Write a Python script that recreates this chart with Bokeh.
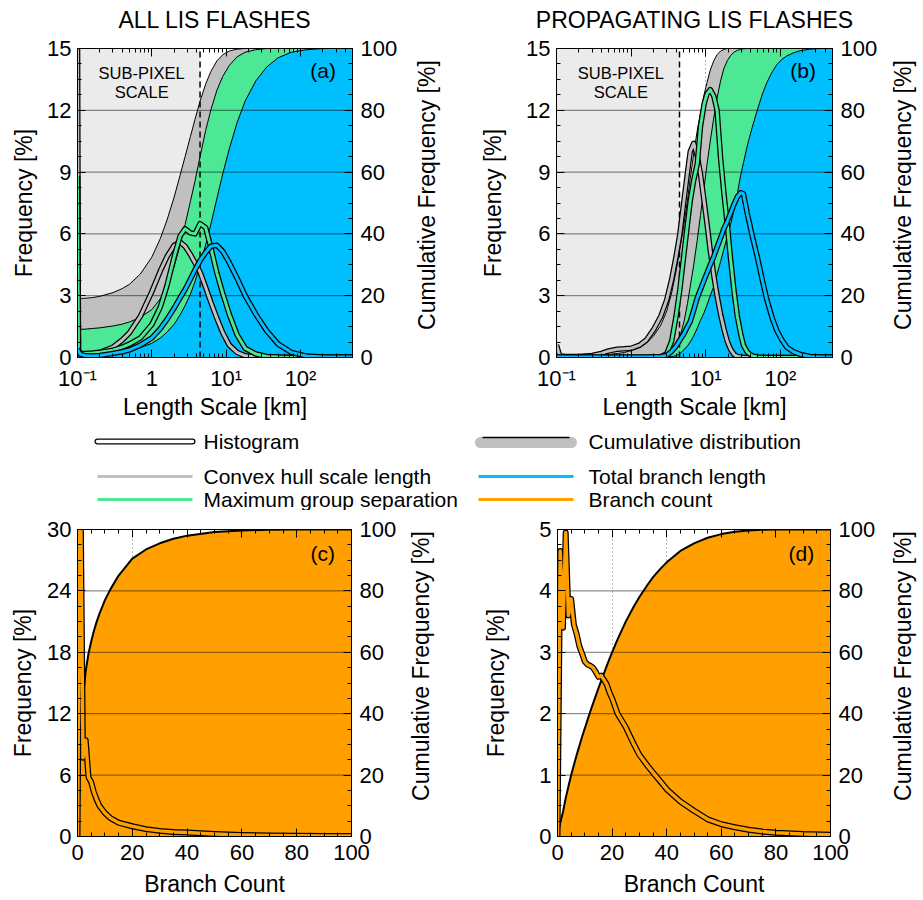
import math
from bokeh.plotting import figure
from bokeh.models import (Range1d, LinearAxis, LogAxis, FixedTicker,
                          CustomJSTickFormatter, Label)
from bokeh.layouts import column, row
from bokeh.embed import file_html
from bokeh.resources import INLINE
from bokeh.core.properties import value

FONT = "Liberation Sans"
LIGHT = "#ebebeb"
GRAY = "#c0c0c0"
GREEN = "#4de896"
BLUE = "#00bfff"
ORANGE = "#ffa000"

# ---------------- data ----------------
LIS_PIXEL_KM = 4.45          # sub-pixel scale limit (dashed line)

# panel (a): all LIS flashes, length scale [km]
X_A = [0.1, 0.103, 0.11, 0.13, 0.16, 0.2, 0.3, 0.4, 0.5, 0.7, 1.0, 1.3, 1.6, 2.0, 2.4, 2.8,
       3.3, 3.8, 4.45, 5.3, 6.2, 7.5, 9.0, 11, 14, 18, 25, 35, 50, 75, 120, 200, 500]
A_HIST_HULL = [16, 0.3, 0.18, 0.15, 0.18, 0.25, 0.5, 0.85, 1.2, 2.0, 3.2, 4.2, 4.9, 5.45, 5.6, 5.4,
               5.0, 4.6, 4.15, 3.4, 2.7, 1.9, 1.2, 0.6, 0.25, 0.08, 0.02, 0, 0, 0, 0, 0, 0]
A_HIST_GROUP = [8.8, 0.3, 0.2, 0.2, 0.22, 0.25, 0.35, 0.5, 0.65, 0.95, 1.6, 2.45, 3.5, 4.9, 5.9, 6.25,
                6.05, 6.0, 6.5, 6.3, 5.35, 4.1, 3.1, 2.1, 1.1, 0.45, 0.17, 0.05, 0.02, 0, 0, 0, 0]
A_HIST_BRANCH = [0.45, 0.3, 0.15, 0.08, 0.07, 0.1, 0.2, 0.28, 0.37, 0.6, 0.95, 1.4, 1.85, 2.4, 2.9, 3.3,
                 3.8, 4.25, 4.7, 5.1, 5.4, 5.45, 5.15, 4.6, 3.85, 3.0, 2.1, 1.3, 0.65, 0.25, 0.07, 0.03, 0.03]
A_CUM_HULL = [19, 19, 19.1, 19.2, 19.4, 19.8, 21, 22.3, 23.7, 27, 32.5, 38.5, 44.5, 52, 59, 65,
              71.5, 77, 83, 88.5, 92.5, 96, 98, 99.2, 99.8, 100, 100, 100, 100, 100, 100, 100, 100]
A_CUM_GROUP = [9, 9, 9.1, 9.2, 9.4, 9.6, 10.2, 10.8, 11.5, 13, 15.5, 19, 23, 29.5, 36.5, 43,
               50.5, 57, 65, 73.5, 80, 86.5, 91, 94.5, 97.3, 98.8, 99.6, 100, 100, 100, 100, 100, 100]
A_CUM_BRANCH = [0.8, 0.9, 1.0, 1.1, 1.2, 1.3, 1.6, 1.9, 2.3, 3.2, 4.6, 6.3, 8.2, 10.8, 13.8, 16.8,
                20.5, 24.5, 30, 36.5, 43, 51.5, 59.5, 67.5, 76, 83, 89.5, 94, 97, 98.8, 99.6, 100, 100]

# panel (b): propagating LIS flashes
X_B = [0.1, 0.103, 0.11, 0.13, 0.16, 0.2, 0.3, 0.4, 0.5, 0.65, 0.8, 1.0, 1.3, 1.6, 2.0, 2.5,
       3.0, 3.5, 4.0, 4.5, 5.1, 5.7, 6.2, 6.9, 7.7, 8.5, 9.5, 10.4, 11.5, 12.8, 14.2, 15.8,
       17.5, 19.4, 21.5, 24, 26.5, 29.4, 32, 36, 42, 49, 57, 66, 78, 90, 105, 122, 150, 185,
       250, 350, 500]
B_HIST_HULL = [0.6, 0.45, 0.1, 0.05, 0.05, 0.05, 0.1, 0.2, 0.32, 0.4, 0.42, 0.45, 0.6, 0.85, 1.35, 2.0,
               2.8, 3.8, 4.9, 6.0, 7.6, 9.0, 10.0, 10.4, 9.8, 8.9, 7.6, 6.5, 5.2, 4.0, 3.0, 2.1,
               1.4, 0.8, 0.4, 0.15, 0.05, 0.02, 0, 0, 0, 0, 0, 0, 0, 0, 0, 0, 0, 0,
               0, 0, 0]
B_HIST_GROUP = [0, 0, 0, 0, 0, 0, 0, 0, 0, 0, 0, 0, 0, 0, 0.01, 0.03,
                0.18, 0.8, 2.0, 3.3, 5.0, 6.5, 7.6, 8.6, 9.4, 11.2, 12.3, 12.8, 13.0, 12.7, 12.0, 9.7,
                8.0, 6.5, 4.8, 3.2, 2.0, 1.15, 0.6, 0.26, 0.08, 0.03, 0, 0, 0, 0, 0, 0, 0, 0,
                0, 0, 0]
B_HIST_BRANCH = [0.03, 0.03, 0.03, 0.03, 0.03, 0.03, 0.03, 0.03, 0.03, 0.03, 0.03, 0.03, 0.03, 0.03, 0.04, 0.05,
                 0.1, 0.3, 0.55, 0.85, 1.15, 1.5, 1.75, 2.3, 2.9, 3.3, 3.75, 4.1, 4.5, 4.9, 5.35, 5.8,
                 6.25, 6.6, 7.0, 7.45, 7.8, 8.0, 7.95, 7.0, 5.9, 4.9, 3.8, 2.8, 1.9, 1.3, 0.85, 0.5, 0.28, 0.15,
                 0.05, 0.03, 0.03]
B_CUM_HULL = [0.5, 0.55, 0.6, 0.6, 0.6, 0.6, 0.7, 0.8, 1.0, 1.3, 1.6, 2.2, 3.2, 4.6, 7.0, 10.5,
              15, 21, 28, 35, 43, 51, 58, 66, 73.5, 79, 85, 89, 93, 96, 98, 99.2,
              99.7, 100, 100, 100, 100, 100, 100, 100, 100, 100, 100, 100, 100, 100, 100, 100, 100, 100,
              100, 100, 100]
B_CUM_GROUP = [0, 0, 0, 0, 0, 0, 0, 0, 0, 0, 0, 0, 0, 0, 0.05, 0.2,
               0.5, 1.5, 3.5, 6.5, 11.5, 17.5, 23, 30, 38, 46, 55, 62.5, 70, 77.5, 84, 89.5,
               93.5, 96, 97.7, 98.8, 99.4, 99.7, 99.9, 100, 100, 100, 100, 100, 100, 100, 100, 100, 100, 100,
               100, 100, 100]
B_CUM_BRANCH = [0, 0, 0, 0, 0, 0, 0, 0, 0, 0, 0, 0, 0, 0, 0, 0.05,
                0.1, 0.3, 0.6, 1.2, 2.5, 3.8, 5.0, 7.0, 9.5, 12.0, 14.5, 17.0, 20.0, 23.0, 27.0, 31.0,
                35.0, 39.0, 43.0, 48.0, 53.0, 59.0, 63.0, 68.5, 74.5, 80.0, 85.0, 89.0, 92.5, 94.8, 96.5, 97.6, 98.6, 99.3,
                99.8, 100, 100]

# panel (c): all flashes, branch count
C_BC = [0, 1, 2, 3, 4, 5, 6, 7, 8, 10, 12, 15, 20, 25, 30, 35, 40, 50, 60, 70, 80, 90, 100]
C_HIST = [0, 37, 7.7, 9.4, 5.8, 5.3, 4.3, 3.6, 3.0, 2.3, 1.8, 1.35, 1.0, 0.72, 0.55, 0.45, 0.38,
          0.25, 0.15, 0.1, 0.08, 0.06, 0.05]
C_CUM = [0, 37, 45, 54, 59.5, 63.5, 67, 70, 72.5, 77, 80.5, 85, 90.5, 93.5, 95.5, 97, 98,
         99.2, 99.7, 99.9, 100, 100, 100]

# panel (d): propagating flashes, branch count
D_BC = [0, 1, 2, 3, 4, 5, 6, 7, 8, 9, 10, 11, 12, 13, 14, 15, 16, 17, 18, 19, 20,
        22, 25, 28, 30, 33, 35, 38, 40, 45, 50, 55, 60, 65, 70, 75, 80, 90, 100]
D_HIST = [0, 4.65, 3.4, 4.95, 3.6, 3.87, 3.45, 3.3, 3.1, 2.98, 2.85, 2.8, 2.78, 2.75, 2.68, 2.6,
          2.62, 2.55, 2.48, 2.35, 2.25, 2.0, 1.78, 1.5, 1.33, 1.15, 1.04, 0.88, 0.77, 0.57, 0.42,
          0.28, 0.2, 0.15, 0.11, 0.08, 0.06, 0.04, 0.03]
D_CUM = [0, 4.5, 8, 12.5, 16.3, 20, 23.3, 26.5, 29.5, 32.5, 35.2, 38, 40.7, 43.3, 45.8, 48.3,
         50.7, 53.1, 55.5, 57.8, 60, 64.2, 70, 75, 78, 82, 84.5, 87.5, 89.3, 93, 95.5, 97.3,
         98.5, 99.3, 99.7, 99.9, 100, 100, 100]

# ticks and labels
LOG_MAJOR = [0.1, 1, 10, 100]
LOG_MINOR = [m * d for d in (0.1, 1, 10, 100) for m in range(1, 10) if m * d <= 500]
LIN_MAJOR = [0, 20, 40, 60, 80, 100]
LIN_MINOR = list(range(0, 101, 5))
CUM_MAJOR = [0, 20, 40, 60, 80, 100]
CUM_MINOR = list(range(0, 101, 5))
CUM_TITLE = "Cumulative Frequency [%]"

LEGEND_ROWS = [("Histogram", "hist"), ("Cumulative distribution", "cum"),
               ("Convex hull scale length", GRAY), ("Total branch length", BLUE),
               ("Maximum group separation", GREEN), ("Branch count", ORANGE)]


def style_axis(ax, label_px="22px", title_px="23px"):
    ax.major_tick_in = 8
    ax.major_tick_out = 0
    ax.minor_tick_in = 4
    ax.minor_tick_out = 0
    ax.axis_line_color = "black"
    ax.major_tick_line_color = "black"
    ax.minor_tick_line_color = "black"
    ax.major_label_text_font = FONT
    ax.major_label_text_font_size = label_px
    ax.major_label_text_color = "black"
    ax.axis_label_text_font = FONT
    ax.axis_label_text_font_size = title_px
    ax.axis_label_text_font_style = "normal"
    ax.axis_label_text_color = "black"


def make_panel(width, height, borders, log_x, x_rng, y_max, x_label, title_text,
               left_std, left_title_std, bottom_std, bottom_title_std, right_std):
    l, r, t, b = borders
    kw = dict(width=width, height=height, output_backend="svg", toolbar_location=None,
              min_border_left=l, min_border_right=r, min_border_top=t, min_border_bottom=b,
              x_range=Range1d(*x_rng), y_range=Range1d(0, y_max), title_location=None)
    if log_x:
        kw["x_axis_type"] = "log"
    p = figure(**kw)
    p.outline_line_color = "black"
    p.background_fill_color = "white"
    p.border_fill_color = "white"
    p.extra_y_ranges = {"cum": Range1d(0, 100)}

    step = y_max / 5.0
    y_major = [step * i for i in range(6)]
    y_minor = [step / 4.0 * i for i in range(21)]
    x_major = LOG_MAJOR if log_x else LIN_MAJOR
    x_minor = LOG_MINOR if log_x else LIN_MINOR

    xax = p.xaxis[0]
    xax.ticker = FixedTicker(ticks=x_major, minor_ticks=x_minor)
    if log_x:
        xax.formatter = CustomJSTickFormatter(code="""
            const e = Math.round(Math.log10(tick));
            if (e == 0) { return '1'; }
            const sup = {'-1': '\u207b\u00b9', '1': '\u00b9', '2': '\u00b2'};
            return '10' + sup[String(e)];
        """)
    else:
        xax.formatter = CustomJSTickFormatter(code="return String(Math.round(tick));")
    xax.axis_label = x_label
    style_axis(xax)
    xax.major_label_standoff = bottom_std
    xax.axis_label_standoff = bottom_title_std

    yax = p.yaxis[0]
    yax.ticker = FixedTicker(ticks=y_major, minor_ticks=y_minor)
    yax.formatter = CustomJSTickFormatter(code="return String(Math.round(tick));")
    yax.axis_label = "Frequency [%]"
    style_axis(yax)
    yax.major_label_standoff = left_std
    yax.axis_label_standoff = left_title_std

    # top axis: ticks only, panel title as its axis label
    top = (LogAxis if log_x else LinearAxis)(
        ticker=FixedTicker(ticks=x_major, minor_ticks=x_minor),
        formatter=CustomJSTickFormatter(code="return '';"))
    style_axis(top)
    top.major_label_text_font_size = "0px"
    top.major_label_standoff = 0
    if title_text is not None:
        top.axis_label = title_text
        top.axis_label_standoff = 16
    p.add_layout(top, "above")

    rax = LinearAxis(y_range_name="cum",
                     ticker=FixedTicker(ticks=CUM_MAJOR, minor_ticks=CUM_MINOR),
                     formatter=CustomJSTickFormatter(code="return String(Math.round(tick));"))
    style_axis(rax)
    rax.major_label_standoff = right_std
    p.add_layout(rax, "right")

    p.xgrid.ticker = FixedTicker(ticks=x_major)
    p.xgrid.grid_line_color = "#777777"
    p.xgrid.grid_line_dash = "1 3"
    p.ygrid.grid_line_color = None
    return p, y_major


def side_title(width, height, cx, cy_from_top):
    """Narrow strip holding the right-hand axis title, reading bottom-to-top."""
    f = figure(width=width, height=height, x_range=Range1d(0, width), y_range=Range1d(0, height),
               output_backend="svg", toolbar_location=None, min_border=0,
               x_axis_location=None, y_axis_location=None, title_location=None)
    f.outline_line_color = None
    f.grid.visible = False
    f.text(x=[cx], y=[height - cy_from_top], text=[CUM_TITLE], angle=math.pi / 2,
           text_align="center", text_baseline="middle", text_font=value(FONT),
           text_font_size="23px", text_color="black")
    return f


def hgrid(p, x_rng, y_major):
    inner = y_major[1:-1]
    p.segment(x0=[x_rng[0]] * len(inner), x1=[x_rng[1]] * len(inner), y0=inner, y1=inner,
              line_color="black", line_alpha=0.55, line_width=1)


def hist_line(p, x, y, core, outer=5.5, inner=3.0):
    p.line(x, y, line_color="black", line_width=outer, line_join="round")
    p.line(x, y, line_color=core, line_width=inner, line_join="round")


def length_panel(width, borders, title, tag, xs, hists, cums, left_title_std):
    x_rng = (0.1, 500)
    p, y_major = make_panel(width, 427, borders, True, x_rng, 15, "Length Scale [km]", title,
                            6, left_title_std, 8, 0, 8)
    p.quad(left=[x_rng[0]], right=[LIS_PIXEL_KM], bottom=[0], top=[15],
           fill_color=LIGHT, line_color=None)
    for cum, col in zip(cums, (GRAY, GREEN, BLUE)):
        p.varea(x=xs, y1=0, y2=cum, fill_color=col, y_range_name="cum")
    for cum in cums:
        p.line(xs, cum, line_color="black", line_width=1, y_range_name="cum")
    hgrid(p, x_rng, y_major)
    p.segment(x0=[LIS_PIXEL_KM], x1=[LIS_PIXEL_KM], y0=[0], y1=[15], line_color="black",
              line_width=1.5, line_dash="6 4")
    for h, col in zip(hists, (GRAY, GREEN, BLUE)):
        hist_line(p, xs, h, col)
    p.add_layout(Label(x=300, y=13.95, text=tag, text_align="right", text_baseline="middle",
                       text_font=FONT, text_font_size="21px", text_color="black"))
    p.add_layout(Label(x=0.73, y=13.8, text="SUB-PIXEL", text_align="center",
                       text_baseline="middle", text_font=FONT, text_font_size="16.5px",
                       text_color="black"))
    p.add_layout(Label(x=0.73, y=12.9, text="SCALE", text_align="center",
                       text_baseline="middle", text_font=FONT, text_font_size="16.5px",
                       text_color="black"))
    return p


def count_panel(width, borders, tag, bc, hist, cum, y_max, left_title_std, tag_y):
    x_rng = (0, 100)
    p, y_major = make_panel(width, 389, borders, False, x_rng, y_max, "Branch Count", None,
                            6, left_title_std, 8, 8, 8)
    p.varea(x=bc, y1=0, y2=cum, fill_color=ORANGE, y_range_name="cum")
    p.line(bc, cum, line_color="black", line_width=2, y_range_name="cum")
    hgrid(p, x_rng, y_major)
    hist_line(p, bc, hist, ORANGE, outer=6, inner=3.5)
    p.add_layout(Label(x=94, y=tag_y, text=tag, text_align="right", text_baseline="middle",
                       text_font=FONT, text_font_size="21px", text_color="black"))
    return p


TOP_H, LEG_H, BOT_H = 427, 83, 389

pa = length_panel(400, (77, 48, 48, 70), "ALL LIS FLASHES", "(a)", X_A,
                  (A_HIST_HULL, A_HIST_GROUP, A_HIST_BRANCH),
                  (A_CUM_HULL, A_CUM_GROUP, A_CUM_BRANCH), 7)
ta = side_title(52, TOP_H, 26, 202.5)
pb = length_panel(428, (104, 48, 48, 70), "PROPAGATING LIS FLASHES", "(b)", X_B,
                  (B_HIST_HULL, B_HIST_GROUP, B_HIST_BRANCH),
                  (B_CUM_HULL, B_CUM_GROUP, B_CUM_BRANCH), 17)
tb = side_title(42, TOP_H, 22, 202.5)

pc = count_panel(400, (77, 49, 19, 62), "(c)", C_BC, C_HIST, C_CUM, 30, 8, 27.7)
tc = side_title(52, BOT_H, 20, 173)
pd_ = count_panel(428, (105, 50, 19, 62), "(d)", D_BC, D_HIST, D_CUM, 5, 27, 4.61)
td = side_title(42, BOT_H, 22, 173)

# ---------------- legend strip ----------------
leg = figure(width=922, height=LEG_H, x_range=Range1d(0, 922), y_range=Range1d(LEG_H, 0),
             output_backend="svg", toolbar_location=None, min_border=0,
             x_axis_location=None, y_axis_location=None, title_location=None)
leg.outline_line_color = None
leg.grid.visible = False
col_x = [(97, 192, 203), (478, 573, 588)]
row_y = [14, 49, 72]
texts_x, texts_y, texts = [], [], []
for i, (name, kind) in enumerate(LEGEND_ROWS):
    x0, x1, tx = col_x[i % 2]
    yy = row_y[i // 2]
    if kind == "hist":
        leg.line([x0, x1], [yy, yy], line_color="black", line_width=6, line_cap="round")
        leg.line([x0, x1], [yy, yy], line_color="white", line_width=3.5, line_cap="round")
    elif kind == "cum":
        leg.line([x0 + 2, x1 - 2], [yy + 1, yy + 1], line_color=GRAY, line_width=11,
                 line_cap="round")
        leg.line([x0 + 4, x1 - 4], [yy - 4, yy - 4], line_color="black", line_width=1.5)
    else:
        leg.line([x0, x1], [yy, yy], line_color=kind, line_width=3)
    texts_x.append(tx)
    texts_y.append(yy)
    texts.append(name)
leg.text(x=texts_x, y=texts_y, text=texts, text_font=value(FONT), text_font_size="21px",
         text_baseline="middle", text_align="left", text_color="black")

layout = column(row(pa, ta, pb, tb), leg, row(pc, tc, pd_, td))
open("out.html", "w", encoding="utf-8").write(file_html(layout, INLINE, "LIS flash length scales"))
